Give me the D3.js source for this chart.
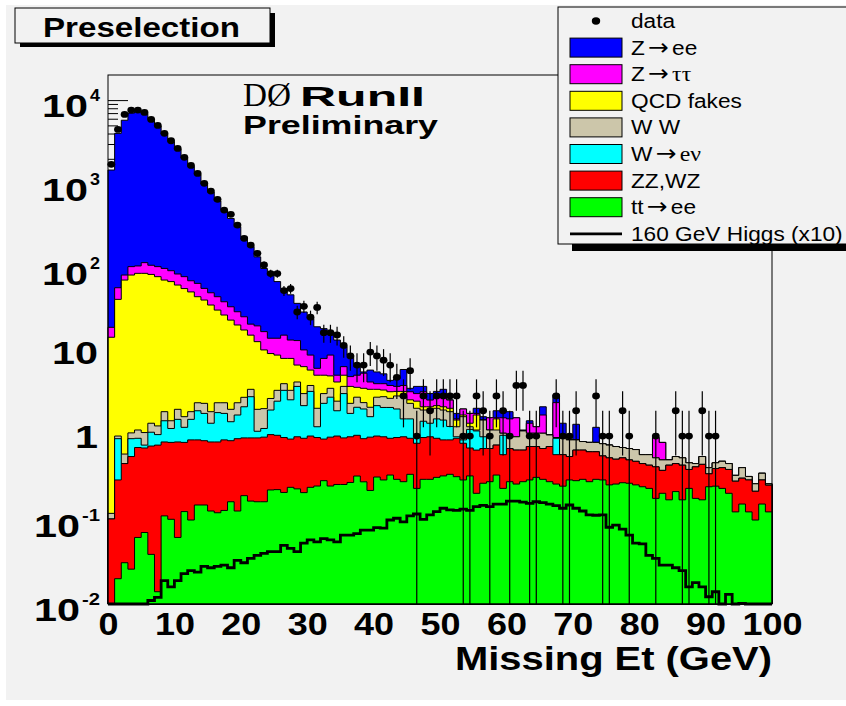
<!DOCTYPE html>
<html><head><meta charset="utf-8">
<script src="https://cdn.jsdelivr.net/npm/d3@7"></script>
<style>body{margin:0;background:#fff}</style>
</head><body><svg id="c" width="846" height="706"></svg>
<script>
// ---- data: cumulative stack levels per 1-GeV bin (0..99 GeV) ----
const stackZee = [1470,4020,5760,7000,7300,6900,5900,4900,3950,3200, 2600,2050,1620,1300,1000,800,630,490,390,310, 235,180,136,99,83,69,57,48,38,30, 25,20,19,17.5,13.9,11.6,9.2,6.7,5.8,6.1, 5.8,5.5,4.6,4.8,6.2,3.7,3.9,3.9,3.2,3.4, 3.6,2.7,1.86,2.1,1.86,2.14,1.7,1.65,2.0,2.0, 1.95,1.65,1.18,1.52,1.29,2.23,1.03,3.1,1.42,0.90, 1.38,0.86,0.84,1.27,0.81,0.78,0.75,0.73,0.71,0.69, 0.60,0.60,0.96,0.84,0.52,0.57,0.55,0.48,0.47,0.57, 0.42,0.48,0.50,0.47,0.34,0.42,0.33,0.27,0.36,0.27];
const stackZtautau = [19.7,58.3,82.6,104,106,116,108,104,99,93, 85,79,70.6,65.7,57.3,50.8,45.6,39.7,34.6,30.2, 26.3,21.5,20.5,17.5,14.6,14.6,15.9,13.9,13.7,10.6, 9.2,6.4,8.4,9.2,5.3,6.7,5.1,5.3,5.6,4.4, 4.2,4.2,4.0,3.9,4.0,3.37,3.2,3.37,2.68,2.94, 2.94,2.68,1.6,2.1,1.86,1.86,1.55,1.65,1.65,1.65, 1.6,1.65,1.15,1.42,1.29,1.78,1.03,2.5,0.94,0.90, 0.90,0.86,0.84,0.84,0.81,0.78,0.75,0.73,0.71,0.69, 0.60,0.60,0.96,0.84,0.52,0.57,0.55,0.48,0.47,0.57, 0.42,0.48,0.50,0.47,0.34,0.42,0.33,0.27,0.36,0.27];
const stackQCD = [15,42.4,72,82.6,86.5,86.5,84,79,72,69, 62.8,57,52,45.6,41.6,36.3,31.6,27.6,24,21, 18.3,15.9,13.3,10.6,9.6,9.2,8.4,8.4,7.0,6.7, 6.1,5.3,5.3,5.2,4.4,5.3,3.9,3.8,3.7,3.6, 3.6,3.53,3.37,3.4,3.4,2.7,2.6,2.23,2.23,2.3, 2.23,2.14,1.55,1.78,1.42,1.78,1.55,1.18,1.6,1.08, 0.98,0.98,1.15,1.08,1.08,1.08,1.03,0.96,0.94,0.90, 0.90,0.86,0.84,0.84,0.81,0.78,0.75,0.73,0.71,0.69, 0.60,0.60,0.55,0.52,0.52,0.57,0.55,0.48,0.47,0.57, 0.42,0.48,0.50,0.47,0.34,0.42,0.33,0.27,0.36,0.27];
const stackWW = [0.12,1.0,0.61,1.09,1.18,1.10,1.42,1.32,1.95,1.52, 2.08,1.70,1.95,2.49,2.45,1.95,2.49,2.49,2.08,2.49, 2.89,3.6,2.08,2.12,2.8,3.5,4.2,3.5,4.4,3.2, 4.0,2.14,3.2,3.7,2.6,3.9,2.45,2.9,2.5,2.2, 2.9,2.94,2.81,3.0,2.94,2.45,2.14,2.04,2.04,2.14, 2.04,1.95,1.29,1.70,1.29,1.18,1.55,1.18,1.18,1.08, 0.98,0.98,1.15,1.08,1.08,1.08,1.03,0.96,0.94,0.90, 0.90,0.86,0.84,0.84,0.81,0.78,0.75,0.73,0.71,0.69, 0.60,0.60,0.55,0.52,0.52,0.57,0.55,0.48,0.47,0.57, 0.42,0.48,0.50,0.47,0.34,0.42,0.33,0.27,0.36,0.27];
const stackWenu = [0.103,0.93,0.47,0.93,0.94,0.78,1.11,1.04,1.52,1.23, 1.58,1.27,1.58,2.00,1.86,1.42,1.90,1.86,1.48,1.78, 2.23,2.94,1.14,1.23,2.04,2.60,3.5,2.7,3.9,2.3, 3.4,1.29,2.45,2.9,2.0,3.2,1.86,2.2,2.1,1.7, 2.3,2.19,2.19,2.1,1.6,1.6,0.98,1.5,1.42,1.6, 1.55,1.3,0.98,0.90,1.2,1.15,0.98,0.71,0.78,1.02, 0.71,0.68,0.68,0.75,0.75,0.71,0.75,0.94,0.60,0.57, 0.68,0.68,0.65,0.65,0.58,0.55,0.53,0.55,0.52,0.50, 0.47,0.45,0.43,0.39,0.45,0.47,0.45,0.40,0.43,0.46, 0.355,0.41,0.42,0.40,0.29,0.315,0.30,0.22,0.30,0.26];
const stackZZWZ = [0.103,0.30,0.47,0.57,0.73,0.72,0.76,0.78,0.85,0.84, 0.85,0.84,0.90,0.90,0.88,0.85,0.85,0.90,0.88,0.93, 0.95,0.95,0.95,0.97,1.04,1.02,0.96,0.92,0.98,0.94, 1.0,0.96,0.92,0.97,1.0,0.95,0.98,1.02,0.93,0.97, 1.0,0.98,0.94,0.96,0.98,0.94,0.82,0.96,0.98,0.94, 0.90,0.90,0.94,0.82,0.72,0.68,0.71,0.71,0.78,0.60, 0.71,0.68,0.68,0.75,0.75,0.71,0.75,0.60,0.60,0.57, 0.68,0.68,0.65,0.65,0.58,0.55,0.53,0.55,0.52,0.50, 0.47,0.45,0.43,0.39,0.45,0.47,0.45,0.40,0.43,0.46, 0.355,0.41,0.42,0.40,0.29,0.315,0.30,0.22,0.30,0.26];
const stackTTee = [0,0.020,0.031,0.026,0.062,0.071,0.039,0.014,0.112,0.102, 0.062,0.126,0.100,0.151,0.151,0.128,0.122,0.130,0.165,0.128, 0.195,0.168,0.165,0.165,0.228,0.230,0.213,0.245,0.235,0.212, 0.245,0.254,0.294,0.254,0.265,0.265,0.280,0.334,0.285,0.225, 0.325,0.300,0.343,0.305,0.286,0.350,0.238,0.305,0.305,0.322, 0.335,0.350,0.328,0.300,0.335,0.208,0.274,0.286,0.343,0.238, 0.286,0.268,0.286,0.300,0.322,0.305,0.286,0.268,0.253,0.300, 0.294,0.305,0.286,0.305,0.300,0.262,0.268,0.278,0.274,0.262, 0.249,0.238,0.181,0.208,0.174,0.218,0.174,0.238,0.181,0.174, 0.249,0.253,0.238,0.208,0.125,0.155,0.125,0.100,0.155,0.125];
const dataCounts = [1720,4480,6760,7600,7600,7140,5890,5000,4020,3280, 2660,2080,1670,1340,1020,826,658,490,436,325, 226,188,150,109,86,86,54,57,30,35, 26,34,17,17,16,12,9,7,7,10, 9,8,7,5,3,6,1,3,2,3, 3,3,3,1,1,3,2,1,3,2, 1,4,4,1,1,0,0,3,1,1, 2,0,0,3,1,1,0,2,1,0, 0,0,1,0,0,2,1,1,0,2, 1,1,0,0,0,0,0,0,0,0];
const higgsX10 = [0,0,0,0,0,0,0.011,0.012,0.019,0.016, 0.019,0.023,0.025,0.024,0.028,0.027,0.028,0.029,0.027,0.033, 0.031,0.035,0.038,0.040,0.042,0.042,0.050,0.046,0.042,0.053, 0.058,0.055,0.060,0.058,0.055,0.066,0.066,0.069,0.076,0.076, 0.081,0.080,0.100,0.105,0.095,0.112,0.118,0.102,0.115,0.126, 0.138,0.132,0.130,0.135,0.130,0.144,0.149,0.144,0.155,0.155, 0.168,0.168,0.163,0.158,0.165,0.161,0.155,0.148,0.138,0.151, 0.138,0.128,0.115,0.114,0.115,0.082,0.087,0.078,0.066,0.053, 0.052,0.038,0.035,0.029,0.029,0.027,0.025,0.016,0.018,0.016, 0.0122,0.014,0,0.013,0,0.0102,0,0,0,0];

// legend labels: [prefix, arrow?, suffix]
const seriesNames = [["Z","→","ee"],["Z","→","ττ"],["QCD fakes","",""],["W W","",""],["W","→","eν"],["ZZ,WZ","",""],["tt","→","ee"]];
const seriesColors = ["#0000ff","#ff00ff","#ffff00","#ccc6aa","#00ffff","#ff0000","#00ff00"];
const seriesLevels = [stackZee,stackZtautau,stackQCD,stackWW,stackWenu,stackZZWZ,stackTTee];
const xTicks = [0,10,20,30,40,50,60,70,80,90,100];
const yTicks = [0.01,0.1,1,10,100,1000,10000];
const yTickLabels = [["10","-2"],["10","-1"],["1",""],["10",""],["10","2"],["10","3"],["10","4"]];
const nBins = 100, xMax = 100, yMin = 0.01, yMax = 19900;

// ---- drawing ----
const svg = d3.select("#c");
const SANS = "'Liberation Sans', Arial, Helvetica, sans-serif";
svg.append("rect").attr("x",6).attr("y",5).attr("width",840).attr("height",695).attr("fill","#f2f2f2");

const X0=108, X1=772, YT=75, YB=604;
const x = d3.scaleLinear().domain([0,xMax]).range([X0,X1]);
const y = d3.scaleLog().domain([yMin,yMax]).range([YB,YT]);
const yc = v => v > 0 ? y(Math.min(Math.max(v,yMin),yMax)) : YB;

// axis ticks (drawn under histograms, like ROOT)
const minors = [];
for (let k=-2;k<=4;k++) for (let m=2;m<=9;m++){ const v=m*Math.pow(10,k); if(v<=yMax) minors.push(v); }
svg.append("g").attr("transform",`translate(${X0},0)`)
  .call(d3.axisRight(y).tickValues(yTicks).tickSize(20).tickFormat(""))
  .call(g=>g.select(".domain").remove()).selectAll("line").attr("stroke","#000");
svg.append("g").attr("transform",`translate(${X0},0)`)
  .call(d3.axisRight(y).tickValues(minors).tickSize(10).tickFormat(""))
  .call(g=>g.select(".domain").remove()).selectAll("line").attr("stroke","#000");
svg.append("g").attr("transform",`translate(0,${YB})`)
  .call(d3.axisTop(x).tickValues(xTicks).tickSize(15).tickFormat(""))
  .call(g=>g.select(".domain").remove());

function stepArea(vals){
  const p = d3.path();
  p.moveTo(x(0), YB);
  vals.forEach((v,i)=>{ const yy = yc(v); p.lineTo(x(i),yy); p.lineTo(x(i+1),yy); });
  p.lineTo(x(nBins), YB); p.closePath();
  return p.toString();
}
function stepLine(vals){
  const p = d3.path();
  vals.forEach((v,i)=>{ const yy = yc(v); if(i===0) p.moveTo(x(i),yy); else p.lineTo(x(i),yy); p.lineTo(x(i+1),yy); });
  return p.toString();
}
seriesLevels.forEach((vals,k)=>{
  svg.append("path").attr("d",stepArea(vals)).attr("fill",seriesColors[k])
    .attr("stroke","#000").attr("stroke-width",1);
});
// Higgs x10
svg.append("path").attr("d",stepLine(higgsX10)).attr("fill","none").attr("stroke","#000").attr("stroke-width",2.8);

// data with sqrt(N) errors
const gData = svg.append("g");
dataCounts.forEach((n,i)=>{
  if(n<=0) return;
  const cx = x(i+0.5), e = Math.sqrt(n);
  gData.append("line").attr("x1",cx).attr("x2",cx).attr("y1",yc(n+e)).attr("y2",(n-e)>yMin? yc(n-e):YB)
    .attr("stroke","#000").attr("stroke-width",1.2);
  gData.append("ellipse").attr("cx",cx).attr("cy",yc(n)).attr("rx",3.9).attr("ry",3.4).attr("fill","#000");
});

// frame
svg.append("rect").attr("x",X0).attr("y",YT).attr("width",X1-X0).attr("height",YB-YT)
  .attr("fill","none").attr("stroke","#000").attr("stroke-width",1);

// x tick labels
const gx = svg.append("g").attr("transform",`translate(0,${YB})`)
  .call(d3.axisBottom(x).tickValues(xTicks).tickSize(0).tickPadding(9).tickFormat(d=>String(d)));
gx.select(".domain").remove();
gx.selectAll("text").attr("font-family",SANS).attr("font-weight","bold").attr("font-size",31).attr("fill","#000")
  .attr("textLength",d=>String(d).length*20).attr("lengthAdjust","spacingAndGlyphs");

// y tick labels
yTicks.forEach((v,k)=>{
  const [base,sup] = yTickLabels[k];
  const ty = y(v);
  if (sup){
    const supW = sup.length*8+2;
    svg.append("text").attr("x",100).attr("y",ty+1).attr("text-anchor","end")
      .attr("font-family",SANS).attr("font-weight","bold").attr("font-size",17)
      .attr("textLength",supW).attr("lengthAdjust","spacingAndGlyphs").text(sup);
    svg.append("text").attr("x",100-supW-2).attr("y",ty+17).attr("text-anchor","end")
      .attr("font-family",SANS).attr("font-weight","bold").attr("font-size",32)
      .attr("textLength",46).attr("lengthAdjust","spacingAndGlyphs").text(base);
  } else {
    svg.append("text").attr("x",98).attr("y",ty+11.5).attr("text-anchor","end")
      .attr("font-family",SANS).attr("font-weight","bold").attr("font-size",32)
      .attr("textLength",base.length*23).attr("lengthAdjust","spacingAndGlyphs").text(base);
  }
});

// x title
svg.append("text").attr("x",772).attr("y",670).attr("text-anchor","end")
  .attr("font-family",SANS).attr("font-weight","bold").attr("font-size",33)
  .attr("textLength",317).attr("lengthAdjust","spacingAndGlyphs").text("Missing Et (GeV)");

// Preselection box
svg.append("rect").attr("x",20).attr("y",13).attr("width",255).attr("height",34).attr("fill","#000");
svg.append("rect").attr("x",15).attr("y",8).attr("width",255).attr("height",35).attr("fill","#f2f2f2").attr("stroke","#000");
svg.append("text").attr("x",43).attr("y",37).attr("font-family",SANS).attr("font-weight","bold").attr("font-size",28)
  .attr("textLength",197).attr("lengthAdjust","spacingAndGlyphs").text("Preselection");

// DØ RunII Preliminary (DØ glyphs stretched vertically to keep a compact box)
svg.append("text").attr("transform","translate(243,106) scale(1,1.2)")
  .attr("font-family","'Liberation Serif','DejaVu Serif',serif").attr("font-size",28)
  .attr("textLength",48).attr("lengthAdjust","spacingAndGlyphs").text("DØ");
svg.append("text").attr("x",300).attr("y",106).attr("font-family",SANS).attr("font-weight","bold").attr("font-size",28)
  .attr("textLength",125).attr("lengthAdjust","spacingAndGlyphs").text("RunII");
svg.append("text").attr("x",243).attr("y",134).attr("font-family",SANS).attr("font-weight","bold").attr("font-size",26.5)
  .attr("textLength",195).attr("lengthAdjust","spacingAndGlyphs").text("Preliminary");

// legend
svg.append("rect").attr("x",572).attr("y",14).attr("width",290).attr("height",237).attr("fill","#000");
svg.append("rect").attr("x",558).attr("y",7).attr("width",300).attr("height",237).attr("fill","#f2f2f2").attr("stroke","#000");
const legRows = [["data","",""]].concat(seriesNames).concat([["160 GeV Higgs (x10)","",""]]);
legRows.forEach((parts,k)=>{
  const cy = 21 + 26.6*k;
  if (k===0){
    svg.append("ellipse").attr("cx",596).attr("cy",cy).attr("rx",4.2).attr("ry",3.7).attr("fill","#000");
  } else if (k===legRows.length-1){
    svg.append("line").attr("x1",570).attr("x2",622).attr("y1",cy).attr("y2",cy).attr("stroke","#000").attr("stroke-width",2.8);
  } else {
    svg.append("rect").attr("x",570).attr("y",cy-9.5).attr("width",52).attr("height",19)
      .attr("fill",seriesColors[k-1]).attr("stroke","#000").attr("stroke-width",1);
  }
  const t = svg.append("text").attr("transform",`translate(631,${cy+7}) scale(1.08,1)`)
    .attr("font-family",SANS).attr("font-size",21).attr("fill","#000");
  const [pre,arrow,post] = parts;
  t.append("tspan").text(pre);
  if (arrow){
    t.append("tspan").attr("font-family","'DejaVu Sans',sans-serif").attr("font-size",23).attr("dx",3).text(arrow);
    const greek = /[τν]/.test(post);
    t.append("tspan").attr("dx",3).attr("font-family", greek ? "'Liberation Serif','DejaVu Serif',serif" : SANS)
      .attr("font-size", greek ? 22 : 21).text(post);
  }
});
</script>
</body></html>
